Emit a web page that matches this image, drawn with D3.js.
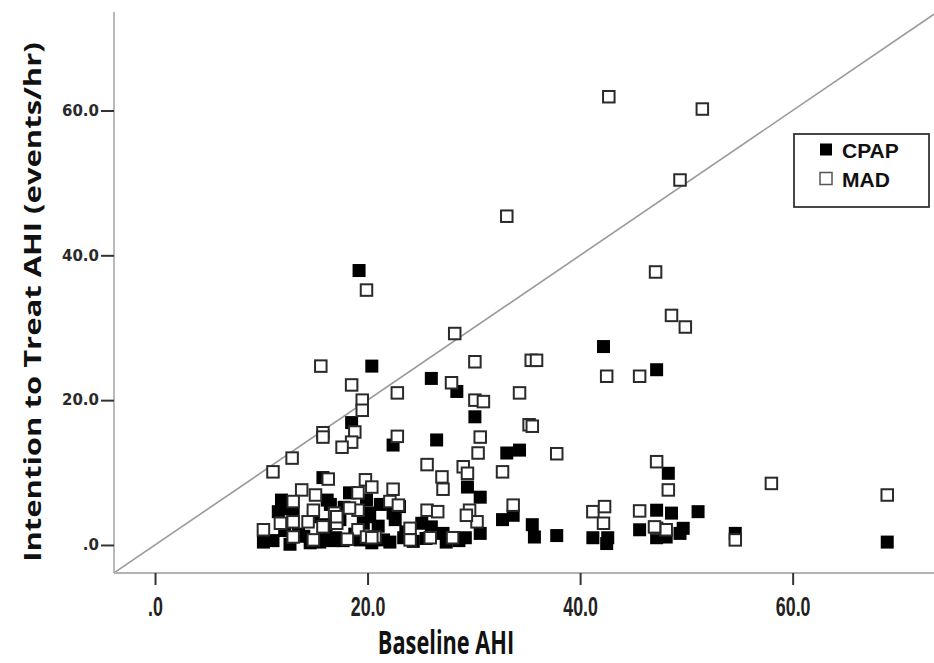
<!DOCTYPE html>
<html>
<head>
<meta charset="utf-8">
<script src="https://cdn.jsdelivr.net/npm/d3@7/dist/d3.min.js"></script>
<style>
  html, body { margin: 0; padding: 0; background: #fff; }
  svg { display: block; }
</style>
</head>
<body>
<svg id="chart" width="934" height="663"></svg>
<script>
// ---- Data (Baseline AHI, Intention to Treat AHI) ----
const seriesNames = ["CPAP", "MAD"];
const xTicks = [0, 20, 40, 60];
const yTicks = [0, 20, 40, 60];
const xTickLabels = [".0", "20.0", "40.0", "60.0"];
const yTickLabels = [".0", "20.0", "40.0", "60.0"];
const xTitle = "Baseline AHI";
const yTitle = "Intention to Treat  AHI (events/hr)";

const cpapBaseline = [19.2, 20.4, 26.0, 28.4, 30.1, 18.5, 22.4, 26.5, 33.1, 34.3, 42.2, 47.2, 48.3, 15.8,
  29.4, 30.6, 32.7, 33.7, 35.5, 35.7, 37.8, 41.2, 42.6, 42.5, 45.6, 47.2, 48.6, 47.2, 48.1, 49.7, 49.4, 51.1,
  54.6, 68.9, 30.6, 29.2, 27.1, 27.4, 21.5, 22.1, 25.1, 26.0, 23.0, 22.6, 20.0, 22.4, 18.3, 19.9, 11.9, 13.0,
  14.9, 16.2, 16.5, 17.4, 20.2, 10.2, 11.1, 12.7, 14.6, 15.5, 16.7, 17.7, 19.3, 20.4, 13.5, 16.0, 18.8, 24.3,
  23.6, 28.6, 12.2, 14.0, 17.0, 21.0, 25.5, 16.1, 12.4, 17.8, 19.6, 21.2, 23.4, 11.6];
const cpapITT = [37.9, 24.7, 23.0, 21.2, 17.7, 16.9, 13.8, 14.5, 12.7, 13.1, 27.4, 24.2, 9.9, 9.3,
  8.0, 6.6, 3.5, 4.1, 2.8, 1.1, 1.3, 1.0, 1.0, 0.2, 2.1, 4.8, 4.4, 1.0, 1.1, 2.3, 1.6, 4.6,
  1.6, 0.4, 1.6, 1.0, 1.6, 0.4, 0.7, 0.4, 3.0, 2.5, 5.3, 3.5, 4.4, 4.4, 7.2, 6.2, 6.2, 4.4,
  3.9, 6.2, 5.6, 3.5, 3.9, 0.4, 0.6, 0.1, 0.3, 0.4, 0.6, 0.6, 0.7, 0.3, 1.5, 1.8, 1.5, 0.5,
  1.8, 0.6, 2.0, 1.2, 1.0, 2.6, 0.9, 2.8, 5.0, 5.2, 3.0, 5.6, 1.0, 4.6];

const madBaseline = [42.7, 51.5, 49.4, 33.1, 47.1, 19.9, 48.6, 49.9, 28.2, 15.6, 35.4, 35.9, 30.1, 42.5,
  45.6, 18.5, 22.8, 27.9, 30.1, 30.9, 34.3, 19.5, 19.5, 35.2, 35.5, 18.8, 18.5, 17.6, 15.8, 15.8, 22.8, 30.6,
  30.4, 37.8, 12.9, 11.1, 25.6, 29.0, 29.4, 32.7, 27.0, 27.1, 47.2, 48.3, 58.0, 68.9, 16.3, 19.8, 20.4, 22.4,
  19.1, 13.8, 13.0, 15.1, 14.9, 19.1, 16.9, 22.1, 11.8, 13.0, 14.4, 15.8, 17.1, 19.1, 10.2, 13.0, 18.1, 19.9,
  20.7, 14.9, 29.6, 30.3, 33.7, 41.2, 42.3, 42.2, 45.6, 47.2, 48.1, 47.0, 54.6, 25.6, 26.6, 24.0, 24.0, 25.9,
  28.0, 20.4, 29.3, 17.1, 18.3, 22.9];
const madITT = [61.9, 60.2, 50.4, 45.4, 37.7, 35.2, 31.7, 30.1, 29.2, 24.7, 25.5, 25.5, 25.3, 23.3,
  23.3, 22.1, 21.0, 22.4, 20.0, 19.8, 21.0, 20.0, 18.6, 16.6, 16.4, 15.6, 14.2, 13.5, 15.5, 14.9, 15.0, 14.9,
  12.7, 12.6, 12.0, 10.1, 11.1, 10.8, 9.9, 10.1, 9.4, 7.7, 11.5, 7.6, 8.5, 6.9, 9.1, 9.0, 8.0, 7.7,
  7.2, 7.6, 6.0, 6.9, 4.8, 4.8, 4.4, 6.0, 3.0, 3.2, 3.2, 2.5, 3.0, 2.1, 2.1, 1.1, 0.8, 1.1,
  1.1, 0.7, 4.8, 3.2, 5.5, 4.6, 5.3, 3.0, 4.7, 2.3, 2.1, 2.5, 0.7, 4.8, 4.6, 2.3, 0.7, 1.0,
  1.0, 1.0, 4.1, 3.9, 5.1, 5.5];

const cpap = cpapBaseline.map((b, i) => ({ x: b, y: cpapITT[i] }));
const mad = madBaseline.map((b, i) => ({ x: b, y: madITT[i] }));

// ---- Layout ----
const svg = d3.select("#chart");
const plotLeft = 114, plotRight = 934, plotTop = 12, plotBottom = 573;
const xDomain = [-3.86, 73.3];
const yDomain = [-3.87, 73.6];
const x = d3.scaleLinear().domain(xDomain).range([plotLeft, plotRight]);
const y = d3.scaleLinear().domain(yDomain).range([plotBottom, plotTop]);

// Identity (reference) line
const lineMax = Math.min(xDomain[1], yDomain[1]);
svg.append("line")
  .attr("x1", x(xDomain[0])).attr("y1", y(xDomain[0]))
  .attr("x2", x(lineMax)).attr("y2", y(lineMax))
  .attr("stroke", "#9a9a9a").attr("stroke-width", 1.6);

// Axes lines
svg.append("line").attr("x1", plotLeft).attr("x2", plotRight)
  .attr("y1", plotBottom).attr("y2", plotBottom)
  .attr("stroke", "#b3b3b3").attr("stroke-width", 1.8);
svg.append("line").attr("x1", plotLeft).attr("x2", plotLeft)
  .attr("y1", plotTop).attr("y2", plotBottom)
  .attr("stroke", "#b3b3b3").attr("stroke-width", 1.8);

// X axis
const xAxis = d3.axisBottom(x).tickValues(xTicks).tickSize(12).tickPadding(6)
  .tickFormat((d, i) => xTickLabels[i]);
const gx = svg.append("g").attr("transform", `translate(0,${plotBottom})`).call(xAxis);
gx.select(".domain").remove();
gx.selectAll(".tick line").attr("stroke", "#333").attr("stroke-width", 2);
gx.selectAll(".tick text")
  .attr("fill", "#222")
  .attr("font-family", "'Liberation Sans', Arial, sans-serif")
  .attr("font-weight", "bold")
  .attr("font-size", 27)
  .attr("y", 0)
  .attr("dy", 0)
  .attr("transform", "translate(0,43) scale(0.66,1)");

// Y axis
const yAxis = d3.axisLeft(y).tickValues(yTicks).tickSize(13).tickPadding(2)
  .tickFormat((d, i) => yTickLabels[i]);
const gy = svg.append("g").attr("transform", `translate(${plotLeft},0)`).call(yAxis);
gy.select(".domain").remove();
gy.selectAll(".tick line").attr("stroke", "#333").attr("stroke-width", 2);
gy.selectAll(".tick text")
  .attr("fill", "#2a2a2a")
  .attr("font-family", "'DejaVu Sans', Verdana, sans-serif")
  .attr("font-weight", "bold")
  .attr("font-size", 15);

// Points: CPAP filled, MAD hollow (drawn on top)
const sz = 13;
svg.append("g").selectAll("rect").data(cpap).join("rect")
  .attr("x", d => x(d.x) - sz / 2).attr("y", d => y(d.y) - sz / 2)
  .attr("width", sz).attr("height", sz)
  .attr("fill", "#000");
const hs = 11.5;
svg.append("g").selectAll("rect").data(mad).join("rect")
  .attr("x", d => x(d.x) - hs / 2).attr("y", d => y(d.y) - hs / 2)
  .attr("width", hs).attr("height", hs)
  .attr("fill", "#fff").attr("stroke", "#2a2a2a").attr("stroke-width", 2);

// Axis titles
svg.append("text")
  .attr("transform", `translate(446,654) scale(0.68,1)`)
  .attr("text-anchor", "middle")
  .attr("font-family", "'Open Sans', 'DejaVu Sans', sans-serif")
  .attr("font-weight", "bold")
  .attr("font-size", 32)
  .attr("fill", "#111")
  .text(xTitle);

svg.append("text")
  .attr("transform", `translate(41,302) rotate(-90) scale(1,0.72)`)
  .attr("text-anchor", "middle")
  .attr("font-family", "'Open Sans', 'DejaVu Sans', sans-serif")
  .attr("font-weight", "bold")
  .attr("font-size", 31)
  .attr("fill", "#111")
  .text(yTitle);

// Legend
const lg = svg.append("g");
lg.append("rect").attr("x", 794).attr("y", 134).attr("width", 135).attr("height", 73)
  .attr("fill", "#fff").attr("stroke", "#333").attr("stroke-width", 1.8);
const legendItems = [
  { name: seriesNames[0], filled: true, cy: 149.5 },
  { name: seriesNames[1], filled: false, cy: 178.5 }
];
legendItems.forEach(it => {
  lg.append("rect").attr("x", 820).attr("y", it.cy - 6).attr("width", 12).attr("height", 12)
    .attr("fill", it.filled ? "#000" : "#fff")
    .attr("stroke", it.filled ? "none" : "#555").attr("stroke-width", 1.5);
  lg.append("text").attr("x", 842).attr("y", it.cy + 8)
    .attr("font-family", "'Liberation Sans', Arial, sans-serif")
    .attr("font-weight", "bold").attr("font-size", 21).attr("fill", "#111")
    .text(it.name);
});
</script>
</body>
</html>
